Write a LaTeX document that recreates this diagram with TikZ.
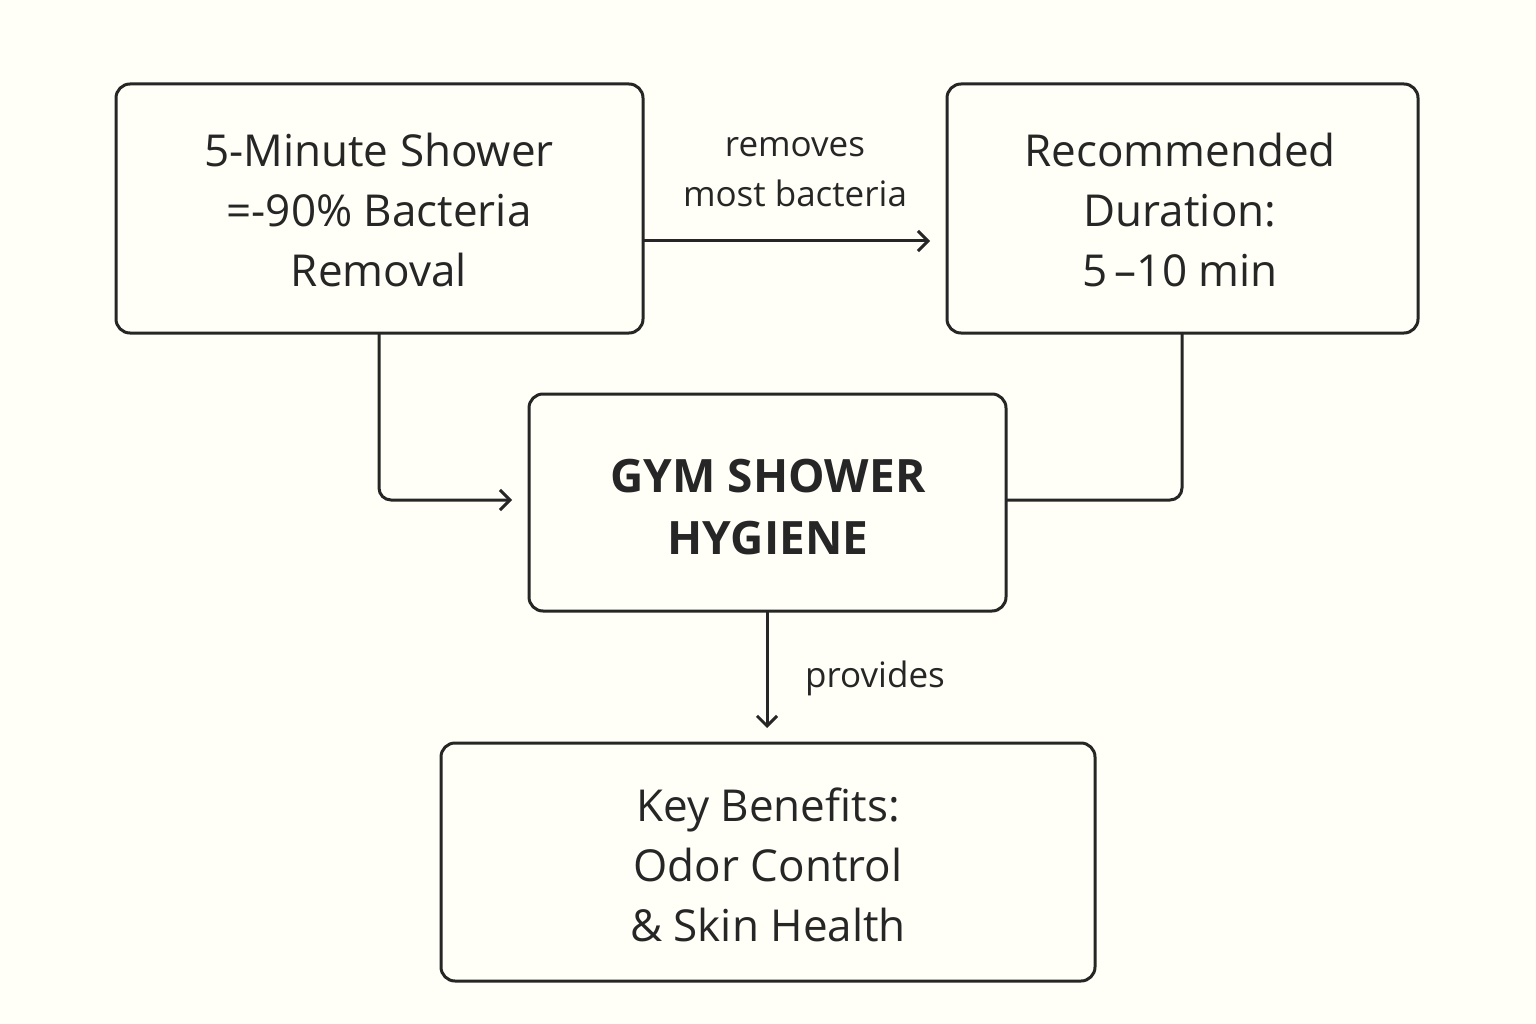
\documentclass[tikz,border=0pt]{standalone}
\usepackage{fontspec}
\setmainfont{Open Sans}
\usetikzlibrary{arrows.meta}
\begin{document}
\begin{tikzpicture}[x=1pt,y=-1pt,
  box/.style={draw=black!85,line width=3pt,rounded corners=14pt},
  txt/.style={align=center,font=\fontsize{44}{60}\selectfont\color{black!85}},
  lbl/.style={align=center,font=\fontsize{35}{50}\selectfont\color{black!85}},
  conn/.style={draw=black!85,line width=3pt,rounded corners=12pt},
  arr/.style={-{Straight Barb[length=10pt,width=20pt,line width=3pt]}}]
\fill[white!96!orange!40!white,fill=white!97!yellow] (0,0) rectangle (1536,1024);
\useasboundingbox (0,0) rectangle (1536,1024);
\draw[box] (116,84) rectangle (643,333);
\node[txt] (a) at (379,210) {5-Minute Shower\\=-90\% Bacteria\\Removal};
\draw[box] (947,84) rectangle (1418,333);
\node[txt] (b) at (1180,210) {Recommended\\Duration:\\5\,–10 min};
\draw[box] (529,394) rectangle (1006,611);
\node[txt,font=\fontsize{46}{62}\selectfont\bfseries\color{black!85}] (c) at (768,507) {GYM SHOWER\\HYGIENE};
\draw[box] (441,743) rectangle (1095,981);
\node[txt] (d) at (768,865) {Key Benefits:\\Odor Control\\\& Skin Health};
\coordinate (a1) at (643,241); \coordinate (b1) at (930,241);
\draw[conn,arr] (a1) -- (b1);
\node[lbl] (l1) at (795,172) {removes\\most bacteria};
\coordinate (a2) at (379,333); \coordinate (c1) at (512,500);
\draw[conn,arr] (a2) |- (c1);
\coordinate (b2) at (1182,333); \coordinate (c2) at (1006,500);
\draw[conn] (b2) |- (c2);
\coordinate (c3) at (767,611); \coordinate (d1) at (767,728);
\draw[conn,arr] (c3) -- (d1);
\node[lbl] (l2) at (875,678) {provides};
\end{tikzpicture}
\end{document}
